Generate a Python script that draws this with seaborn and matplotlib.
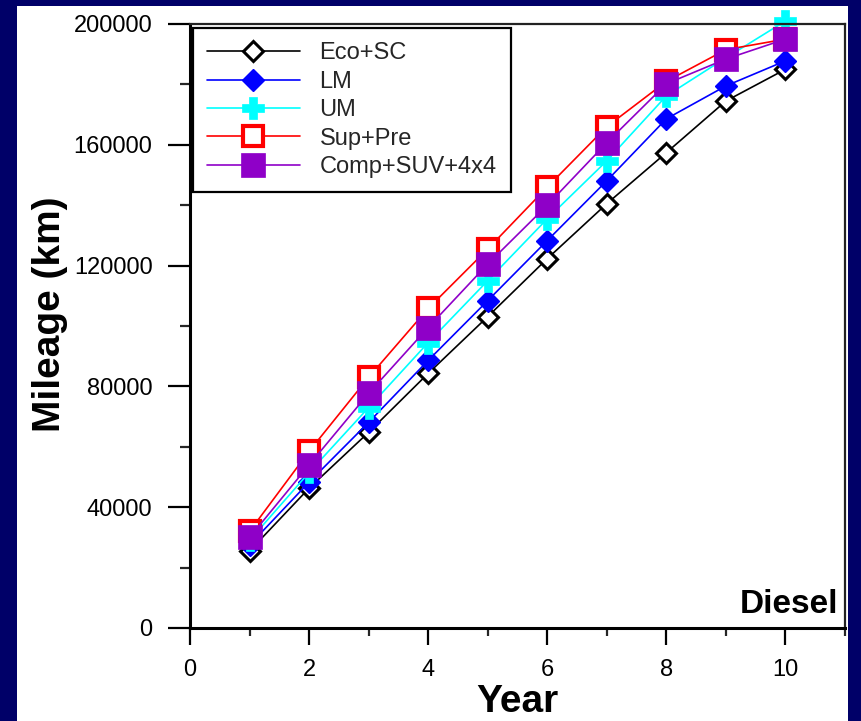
import matplotlib
matplotlib.use("Agg")
import matplotlib.pyplot as plt
from matplotlib.patches import Rectangle
from matplotlib.ticker import MultipleLocator
import seaborn as sns

years = [1, 2, 3, 4, 5, 6, 7, 8, 9, 10]
eco_sc = [25500, 46300, 64800, 84300, 103100, 122300, 140500, 157400, 174500, 185000]
lm = [27500, 48300, 68100, 88600, 108400, 128300, 148100, 168600, 179500, 187800]
um = [29000, 51500, 73000, 94500, 115000, 135500, 154700, 176200, 188800, 201000]
sup_pre = [32000, 58500, 83000, 105800, 125500, 146000, 166000, 181000, 191500, 195000]
comp_suv = [30000, 54000, 77700, 99500, 120500, 140000, 160700, 180200, 188400, 195000]
labels = ["Eco+SC", "LM", "UM", "Sup+Pre", "Comp+SUV+4x4"]

sns.set_theme(style="white")
plt.rcParams["font.family"] = ["Liberation Sans", "DejaVu Sans"]

W, H = 861, 721
fig = plt.figure(figsize=(W / 100, H / 100), dpi=100, facecolor="#000068")
fig.patches.append(Rectangle((17 / W, 0), (848 - 17) / W, (H - 6) / H,
                             transform=fig.transFigure, facecolor="white",
                             edgecolor="none", zorder=-5))
ax = fig.add_axes([190 / W, 1 - 628 / H, (845 - 190) / W, (628 - 24) / H])
ax.set_facecolor("white")

styles = [
    dict(color="black", marker="D", markersize=10, markerfacecolor="white",
         markeredgecolor="black", markeredgewidth=2.2),
    dict(color="#0000FF", marker="D", markersize=11, markerfacecolor="#0000FF",
         markeredgecolor="#0000FF", markeredgewidth=1),
    dict(color="#00FFFF", marker="P", markersize=16, markerfacecolor="#00FFFF",
         markeredgecolor="#00FFFF", markeredgewidth=0.5),
    dict(color="#FF0000", marker="s", markersize=14, markerfacecolor="white",
         markeredgecolor="#FF0000", markeredgewidth=3),
    dict(color="#8F00C8", marker="s", markersize=17, markerfacecolor="#8F00C8",
         markeredgecolor="#8F00C8", markeredgewidth=0.5),
]
series = [eco_sc, lm, um, sup_pre, comp_suv]
for vals, lab, st in zip(series, labels, styles):
    sns.lineplot(x=years, y=vals, ax=ax, label=lab, linewidth=1.2,
                 clip_on=False, legend=False, **st)

ax.set_xlim(0, 11)
ax.set_ylim(0, 200000)
ax.xaxis.set_major_locator(MultipleLocator(2))
ax.xaxis.set_minor_locator(MultipleLocator(1))
ax.yaxis.set_major_locator(MultipleLocator(40000))
ax.yaxis.set_minor_locator(MultipleLocator(20000))
ax.tick_params(axis="y", which="major", direction="out", length=16, width=1.6,
               pad=11, labelsize=17, colors="black", left=True)
ax.tick_params(axis="y", which="minor", direction="out", length=7, width=1.6,
               left=True)
ax.tick_params(axis="x", which="major", direction="out", length=12, width=1.6,
               pad=10, labelsize=17, colors="black", bottom=True)
ax.tick_params(axis="x", which="minor", direction="out", length=6, width=1.6,
               bottom=True)

for side in ["left", "bottom"]:
    ax.spines[side].set_linewidth(2.2)
    ax.spines[side].set_color("black")
for side in ["top", "right"]:
    ax.spines[side].set_visible(True)
    ax.spines[side].set_linewidth(1.6)
    ax.spines[side].set_color("#222222")

ax.set_xlabel("Year", fontsize=28, fontweight="bold", color="black")
ax.set_ylabel("Mileage (km)", fontsize=28, fontweight="bold", color="black")
ax.xaxis.set_label_coords(0.5, -0.093)
ax.yaxis.set_label_coords(-0.186, 0.52)

ax.text(0.989, 0.025, "Diesel", transform=ax.transAxes, ha="right",
        va="baseline", fontsize=24, fontweight="bold", color="black")

leg = ax.legend(loc="upper left", bbox_to_anchor=(0.005, 0.993),
                borderaxespad=0, fontsize=17, handlelength=3.9,
                handletextpad=0.85, labelspacing=0.27, borderpad=0.6,
                fancybox=False, framealpha=1, edgecolor="black")
leg.get_frame().set_linewidth(1.6)

fig.savefig("out.png", dpi=100, facecolor=fig.get_facecolor())
